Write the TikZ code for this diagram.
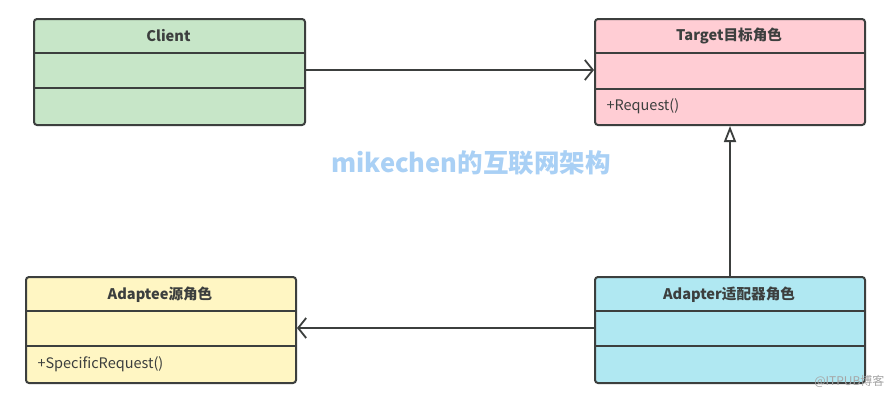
\documentclass[tikz,border=0pt]{standalone}
\usepackage{fontspec}
\setmainfont{Noto Sans CJK SC}
\usetikzlibrary{arrows.meta}
\definecolor{bordc}{HTML}{3C3F3E}
\definecolor{greenc}{HTML}{C7E6C8}
\definecolor{pinkc}{HTML}{FFCDD4}
\definecolor{yellowc}{HTML}{FFF6C3}
\definecolor{cyanc}{HTML}{B0E8F2}
\definecolor{wmblue}{HTML}{A9D0F5}
\begin{document}
\begin{tikzpicture}[x=1pt,y=-1pt,
  classbox/.style={draw=bordc, line width=2pt, rounded corners=3pt},
  divline/.style={draw=bordc, line width=2pt},
  titletxt/.style={font=\fontsize{14.6}{17}\selectfont\bfseries, text=bordc},
  methtxt/.style={font=\fontsize{14.5}{17}\selectfont, text=bordc, anchor=west},
  conn/.style={draw=bordc, line width=1.8pt},
  vtip/.style={-{Straight Barb[length=8pt,width=20pt,line width=1.8pt]}},
  ttip/.style={-{Triangle[open,length=16pt,width=12pt,line width=1.8pt]}}
]
\useasboundingbox (0,0) rectangle (890,397);
\fill[white] (0,0) rectangle (890,397);

% Client
\node[classbox, fill=greenc, minimum width=271pt, minimum height=106pt, anchor=north west, inner sep=0pt] (client) at (33,18) {};
\draw[divline] (33,53) -- (304,53);
\draw[divline] (33,88) -- (304,88);
\node[titletxt] (clientT) at (168.5,36) {Client};

% Target
\node[classbox, fill=pinkc, minimum width=270pt, minimum height=106pt, anchor=north west, inner sep=0pt] (target) at (594,18) {};
\draw[divline] (594,53) -- (864,53);
\draw[divline] (594,89) -- (864,89);
\node[titletxt] (targetT) at (729,36) {Target目标角色};
\node[methtxt] (targetM) at (603,106) {+Request()};

% Adaptee
\node[classbox, fill=yellowc, minimum width=270pt, minimum height=106pt, anchor=north west, inner sep=0pt] (adaptee) at (25,276) {};
\draw[divline] (25,311) -- (295,311);
\draw[divline] (25,346) -- (295,346);
\node[titletxt] (adapteeT) at (160,295) {Adaptee源角色};
\node[methtxt] (adapteeM) at (34,364) {+SpecificRequest()};

% Adapter
\node[classbox, fill=cyanc, minimum width=270pt, minimum height=106pt, anchor=north west, inner sep=0pt] (adapter) at (594,276) {};
\draw[divline] (594,311) -- (864,311);
\draw[divline] (594,346) -- (864,346);
\node[titletxt] (adapterT) at (729,295) {Adapter适配器角色};

% connectors
\coordinate (c1) at (client.east |- 0,70);
\coordinate (t1) at (target.west |- 0,70);
\draw[conn, vtip] (c1) -- (t1);
\draw[conn, ttip] (adapter.north) -- (target.south);
\coordinate (a1) at (adapter.west |- 0,328);
\coordinate (e1) at (adaptee.east |- 0,328);
\draw[conn, vtip] (a1) -- (e1);

% watermarks
\node[font=\fontsize{25.5}{28}\selectfont\bfseries, text=wmblue] (wm) at (471,163) {mikechen的互联网架构};
\node[font=\fontsize{12}{14}\selectfont, text=black!35, anchor=east] (wm2) at (888,381) {@ITPUB博客};
\end{tikzpicture}
\end{document}
